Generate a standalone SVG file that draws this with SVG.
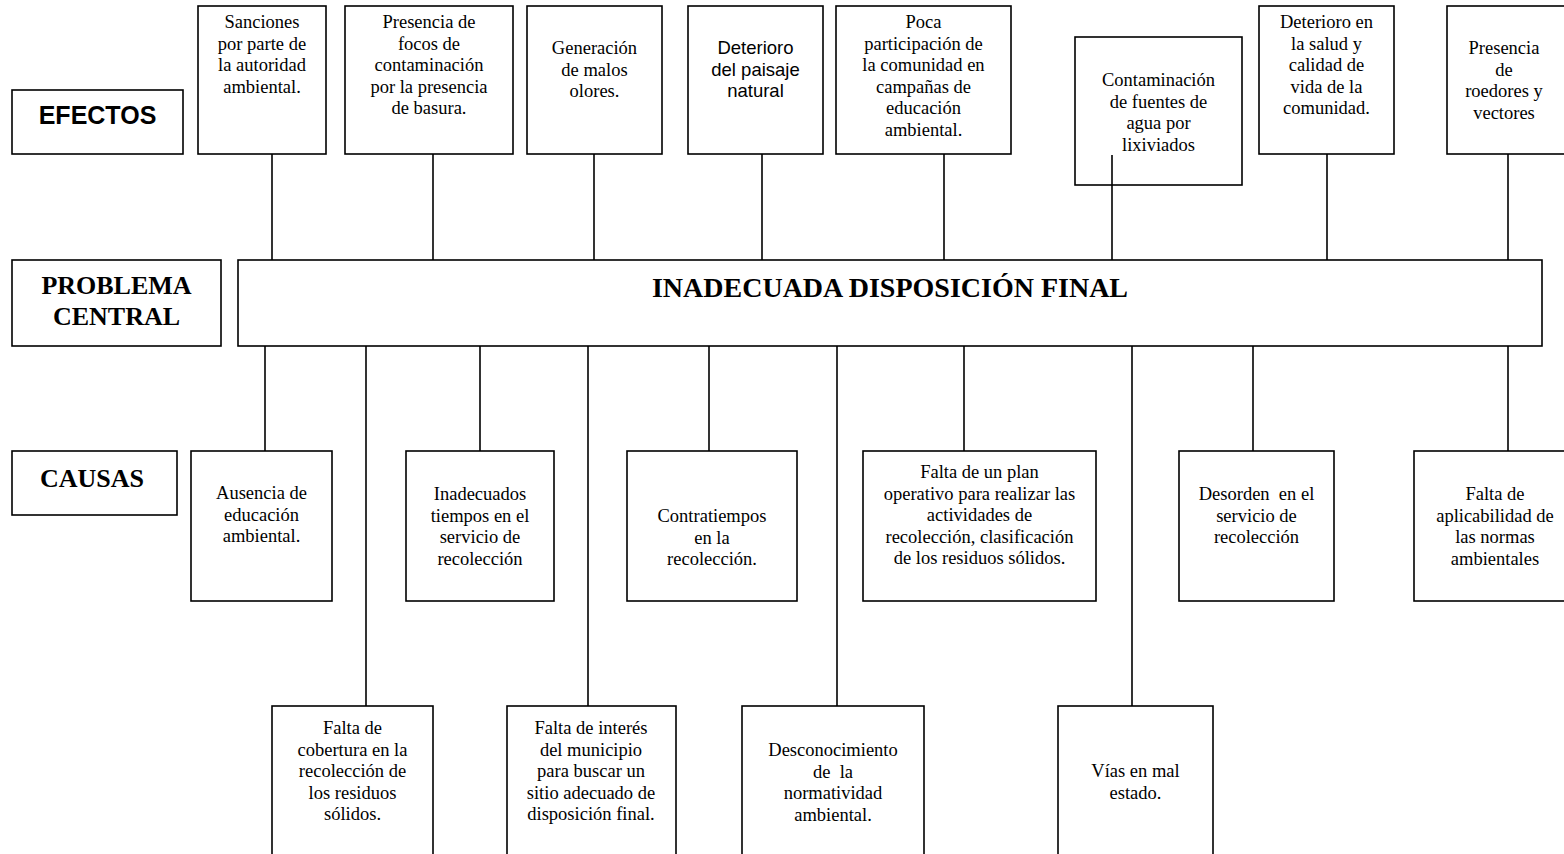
<svg xmlns="http://www.w3.org/2000/svg" width="1564" height="854" viewBox="0 0 1564 854">
<style>
rect{fill:#fff;stroke:#000;stroke-width:1.6}
line{stroke:#000;stroke-width:1.6}
text{font-family:"Liberation Serif","Times New Roman",serif;font-size:18.5px;fill:#000;text-anchor:middle;white-space:pre}
.sans{font-family:"Liberation Sans",Arial,sans-serif}
.hb{font-family:"Liberation Sans",Arial,sans-serif;font-weight:bold;font-size:25px}
.tb{font-weight:bold;font-size:26px}
.title{font-weight:bold;font-size:28px}
</style>
<rect width="1564" height="854" style="fill:#fff;stroke:none"/>
<g id="connectors">
<line x1="272" y1="154" x2="272" y2="260"/>
<line x1="433" y1="154" x2="433" y2="260"/>
<line x1="594" y1="154" x2="594" y2="260"/>
<line x1="762" y1="154" x2="762" y2="260"/>
<line x1="944" y1="154" x2="944" y2="260"/>
<line x1="1327" y1="154" x2="1327" y2="260"/>
<line x1="1508" y1="154" x2="1508" y2="260"/>
<line x1="265" y1="346" x2="265" y2="451"/>
<line x1="480" y1="346" x2="480" y2="451"/>
<line x1="709" y1="346" x2="709" y2="451"/>
<line x1="964" y1="346" x2="964" y2="451"/>
<line x1="1253" y1="346" x2="1253" y2="451"/>
<line x1="1508" y1="346" x2="1508" y2="451"/>
<line x1="366" y1="346" x2="366" y2="706"/>
<line x1="588" y1="346" x2="588" y2="706"/>
<line x1="837" y1="346" x2="837" y2="706"/>
<line x1="1132" y1="346" x2="1132" y2="706"/>
</g>
<g id="lbl-efectos"><rect x="12" y="90" width="171" height="64"/><text class="hb" x="97.5" y="124">EFECTOS</text></g>
<g id="lbl-problema"><rect x="12" y="260" width="209" height="86"/><text class="tb" x="116.5" y="294">PROBLEMA</text><text class="tb" x="116.5" y="325">CENTRAL</text></g>
<g id="lbl-causas"><rect x="12" y="451" width="165" height="64"/><text class="tb" x="92" y="487">CAUSAS</text></g>
<g id="central"><rect x="238" y="260" width="1304" height="86"/><text class="title" x="890" y="297">INADECUADA DISPOSICIÓN FINAL</text></g>
<g id="e1"><rect x="198" y="6" width="128" height="148"/><text x="262" y="28">Sanciones</text><text x="262" y="49.5">por parte de</text><text x="262" y="71">la autoridad</text><text x="262" y="92.5">ambiental.</text></g>
<g id="e2"><rect x="345" y="6" width="168" height="148"/><text x="429" y="28">Presencia de</text><text x="429" y="49.5">focos de</text><text x="429" y="71">contaminación</text><text x="429" y="92.5">por la presencia</text><text x="429" y="114">de basura.</text></g>
<g id="e3"><rect x="527" y="6" width="135" height="148"/><text x="594.5" y="54">Generación</text><text x="594.5" y="75.5">de malos</text><text x="594.5" y="97">olores.</text></g>
<g id="e4"><rect x="688" y="6" width="135" height="148"/><text class="sans" x="755.5" y="54">Deterioro</text><text class="sans" x="755.5" y="75.5">del paisaje</text><text class="sans" x="755.5" y="97">natural</text></g>
<g id="e5"><rect x="836" y="6" width="175" height="148"/><text x="923.5" y="28">Poca</text><text x="923.5" y="49.5">participación de</text><text x="923.5" y="71">la comunidad en</text><text x="923.5" y="92.5">campañas de</text><text x="923.5" y="114">educación</text><text x="923.5" y="135.5">ambiental.</text></g>
<g id="e6"><rect x="1075" y="37" width="167" height="148"/><text x="1158.5" y="86">Contaminación</text><text x="1158.5" y="107.5">de fuentes de</text><text x="1158.5" y="129">agua por</text><text x="1158.5" y="150.5">lixiviados</text><line x1="1112" y1="155" x2="1112" y2="260"/></g>
<g id="e7"><rect x="1259" y="6" width="135" height="148"/><text x="1326.5" y="28">Deterioro en</text><text x="1326.5" y="49.5">la salud y</text><text x="1326.5" y="71">calidad de</text><text x="1326.5" y="92.5">vida de la</text><text x="1326.5" y="114">comunidad.</text></g>
<g id="e8"><rect x="1447" y="6" width="140" height="148"/><text x="1504" y="54">Presencia</text><text x="1504" y="75.5">de</text><text x="1504" y="97">roedores y</text><text x="1504" y="118.5">vectores</text></g>
<g id="c1"><rect x="191" y="451" width="141" height="150"/><text x="261.5" y="499">Ausencia de</text><text x="261.5" y="520.5">educación</text><text x="261.5" y="542">ambiental.</text></g>
<g id="c2"><rect x="406" y="451" width="148" height="150"/><text x="480" y="500">Inadecuados</text><text x="480" y="521.5">tiempos en el</text><text x="480" y="543">servicio de</text><text x="480" y="564.5">recolección</text></g>
<g id="c3"><rect x="627" y="451" width="170" height="150"/><text x="712" y="522">Contratiempos</text><text x="712" y="543.5">en la</text><text x="712" y="565">recolección.</text></g>
<g id="c4"><rect x="863" y="451" width="233" height="150"/><text x="979.5" y="478">Falta de un plan</text><text x="979.5" y="499.5">operativo para realizar las</text><text x="979.5" y="521">actividades de</text><text x="979.5" y="542.5">recolección, clasificación</text><text x="979.5" y="564">de los residuos sólidos.</text></g>
<g id="c5"><rect x="1179" y="451" width="155" height="150"/><text x="1256.5" y="500">Desorden  en el</text><text x="1256.5" y="521.5">servicio de</text><text x="1256.5" y="543">recolección</text></g>
<g id="c6"><rect x="1414" y="451" width="170" height="150"/><text x="1495" y="500">Falta de</text><text x="1495" y="521.5">aplicabilidad de</text><text x="1495" y="543">las normas</text><text x="1495" y="564.5">ambientales</text></g>
<g id="c7"><rect x="272" y="706" width="161" height="160"/><text x="352.5" y="734">Falta de</text><text x="352.5" y="755.5">cobertura en la</text><text x="352.5" y="777">recolección de</text><text x="352.5" y="798.5">los residuos</text><text x="352.5" y="820">sólidos.</text></g>
<g id="c8"><rect x="507" y="706" width="169" height="160"/><text x="591" y="734">Falta de interés</text><text x="591" y="755.5">del municipio</text><text x="591" y="777">para buscar un</text><text x="591" y="798.5">sitio adecuado de</text><text x="591" y="820">disposición final.</text></g>
<g id="c9"><rect x="742" y="706" width="182" height="160"/><text x="833" y="756">Desconocimiento</text><text x="833" y="777.5">de  la</text><text x="833" y="799">normatividad</text><text x="833" y="820.5">ambiental.</text></g>
<g id="c10"><rect x="1058" y="706" width="155" height="160"/><text x="1135.5" y="777">Vías en mal</text><text x="1135.5" y="798.5">estado.</text></g>
</svg>
